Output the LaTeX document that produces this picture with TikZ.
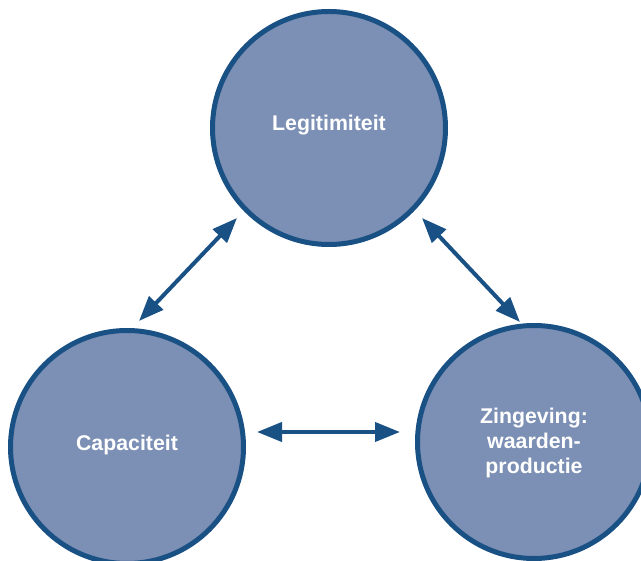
\documentclass[tikz,border=0pt]{standalone}
\usepackage{fontspec}
\setmainfont{Liberation Sans}
\usetikzlibrary{arrows.meta}
\definecolor{ringblue}{HTML}{1A5185}
\definecolor{discfill}{HTML}{7C8FB4}
\begin{document}
\begin{tikzpicture}[x=1pt,y=-1pt,
  disc/.style={circle,draw=ringblue,fill=discfill,line width=5pt,
    minimum size=233pt,inner sep=0pt},
  caption/.style={text=white,align=center,
    font=\fontsize{21.3}{25}\selectfont\bfseries},
  link/.style={draw=ringblue,line width=4pt,{Triangle[length=25pt,width=19pt]}-{Triangle[length=25pt,width=19pt]}}]
  \useasboundingbox (0,0) rectangle (641,561);
  \clip (0,0) rectangle (641,561);

  % the three discs
  \node[disc] (legit) at (329,128) {};
  \node[disc] (capac) at (127,447) {};
  \node[disc] (zin)   at (534,442) {};

  % their captions, set a little above the centre
  \node[caption] (legitT) at ([yshift=2.5pt]legit.center) {Legitimiteit};
  \node[caption] (capacT) at ([yshift=2.5pt]capac.center) {Capaciteit};
  \node[caption] (zinT)   at ([yshift=-1pt]zin.center) {Zingeving:\\waarden-\\productie};

  % arrow end points in the gaps between the discs
  \coordinate (lc) at (139,321);
  \coordinate (lt) at (237,218);
  \coordinate (rt) at (422,218);
  \coordinate (rc) at (520,322);
  \coordinate (hl) at (257,432);
  \coordinate (hr) at (400,432);

  % two-way relations
  \draw[link] (lc) -- (lt);
  \draw[link] (rt) -- (rc);
  \draw[link] (hl) -- (hr);
\end{tikzpicture}
\end{document}
